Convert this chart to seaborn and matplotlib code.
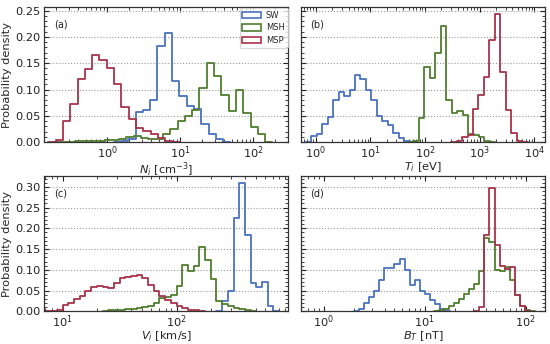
import numpy as np
import pandas as pd
import matplotlib
matplotlib.use("Agg")
import matplotlib.pyplot as plt
import seaborn as sns
from matplotlib.patches import Patch
from matplotlib.ticker import MultipleLocator, FormatStrFormatter

series_names = ["SW", "MSH", "MSP"]
colors = {"SW": "#4a72c0", "MSH": "#4f7d2e", "MSP": "#a8334a"}

# ---- data: each histogram = (log10 of first bin edge, log10 bin width, densities)
# (a) N_i [cm^-3]
a_sw_start, a_msh_start, a_msp_start, a_width = 0.184, -0.64, -0.71, 0.1
a_sw = [0.002, 0.006, 0.058, 0.062, 0.08, 0.183, 0.207, 0.116, 0.088, 0.068,
        0.063, 0.034, 0.016, 0.006]
a_msh = [0.001, 0.001, 0.002, 0.002, 0.003, 0.003, 0.004, 0.005, 0.007, 0.009,
         0.011, 0.008, 0.006, 0.006, 0.016, 0.025, 0.04, 0.05, 0.062, 0.103,
         0.15, 0.125, 0.09, 0.06, 0.1, 0.056, 0.028, 0.016]
a_msp = [0.004, 0.04, 0.073, 0.12, 0.139, 0.165, 0.157, 0.14, 0.11, 0.066,
         0.044, 0.027, 0.022, 0.016, 0.008, 0.003]

# (b) T_i [eV]
b_sw_start, b_msh_start, b_msp_start, b_width = -0.08, 1.79, 2.58, 0.1
b_sw = [0.012, 0.016, 0.035, 0.048, 0.08, 0.096, 0.088, 0.1, 0.127, 0.12,
        0.1, 0.08, 0.05, 0.041, 0.032, 0.017, 0.008, 0.002]
b_msh = [0.002, 0.045, 0.143, 0.121, 0.17, 0.22, 0.08, 0.055, 0.059, 0.052,
         0.016, 0.014, 0.009, 0.003]
b_msp = [0.003, 0.01, 0.013, 0.063, 0.089, 0.124, 0.195, 0.243, 0.134, 0.062,
         0.017, 0.002]

# (c) V_i [km/s]
c_sw_start, c_msh_start, c_msp_start, c_width = 2.40, 1.40, 0.90, 0.05
c_sw = [0.026, 0.05, 0.226, 0.31, 0.184, 0.068, 0.058, 0.07, 0.012]
c_msh = [0.002, 0.003, 0.004, 0.005, 0.006, 0.008, 0.01, 0.013, 0.019, 0.031,
         0.035, 0.04, 0.06, 0.111, 0.097, 0.108, 0.155, 0.124, 0.077, 0.025,
         0.018, 0.013, 0.009, 0.005, 0.002]
c_msp = [0.001, 0.003, 0.016, 0.02, 0.03, 0.038, 0.048, 0.058, 0.062, 0.058,
         0.055, 0.068, 0.08, 0.083, 0.085, 0.088, 0.08, 0.063, 0.05, 0.038,
         0.028, 0.02, 0.013, 0.008, 0.004, 0.002]

# (d) B_T [nT]
d_sw_start, d_msh_start, d_msp_start, d_width = 0.35, 1.14, 1.54, 0.05
d_sw = [0.005, 0.02, 0.034, 0.05, 0.076, 0.104, 0.105, 0.115, 0.125, 0.1,
        0.063, 0.075, 0.048, 0.042, 0.028, 0.018, 0.005]
d_msh = [0.002, 0.005, 0.012, 0.02, 0.03, 0.042, 0.053, 0.066, 0.097, 0.176,
         0.168, 0.1, 0.097, 0.106, 0.075, 0.04, 0.013, 0.004]
d_msp = [0.01, 0.184, 0.297, 0.16, 0.11, 0.102, 0.106, 0.04, 0.012]

x_labels = [r"$N_i$ [cm$^{-3}$]", r"$T_i$ [eV]", r"$V_i$ [km/s]", r"$B_T$ [nT]"]
panel_tags = ["(a)", "(b)", "(c)", "(d)"]
x_limits = [(0.135, 301), (0.53, 15800), (6.85, 960), (0.59, 155)]
y_limits = [(0, 0.257), (0, 0.257), (0, 0.326), (0, 0.326)]

panels = [
    ((a_sw_start, a_sw), (a_msh_start, a_msh), (a_msp_start, a_msp), a_width),
    ((b_sw_start, b_sw), (b_msh_start, b_msh), (b_msp_start, b_msp), b_width),
    ((c_sw_start, c_sw), (c_msh_start, c_msh), (c_msp_start, c_msp), c_width),
    ((d_sw_start, d_sw), (d_msh_start, d_msh), (d_msp_start, d_msp), d_width),
]

sns.set_theme(style="ticks")
plt.rcParams["font.family"] = ["DejaVu Sans"]

fig, axes = plt.subplots(2, 2, figsize=(5.5, 3.44), dpi=100, sharey="row")
fig.subplots_adjust(left=0.08, right=0.991, top=0.98, bottom=0.095,
                    wspace=0.05, hspace=0.25)

for k, ax in enumerate(axes.flat):
    *hists, width = panels[k]
    for name, (start, vals) in zip(series_names, hists):
        n = len(vals)
        # pad one empty bin on each side so the outline returns to zero
        edges = [float(v) for v in 10 ** (start + width * np.arange(-1, n + 2))]
        centers = 10 ** (start + width * (np.arange(n) + 0.5))
        df = pd.DataFrame({"x": centers, "w": np.asarray(vals, dtype=float)})
        sns.histplot(data=df, x="x", weights="w", bins=edges, element="step",
                     fill=False, stat="count", color=colors[name],
                     linewidth=1.3, ax=ax)
    ax.set_xscale("log")
    ax.set_xlim(*x_limits[k])
    ax.set_ylim(*y_limits[k])
    ax.yaxis.set_major_locator(MultipleLocator(0.05))
    ax.yaxis.set_minor_locator(MultipleLocator(0.01))
    ax.yaxis.set_major_formatter(FormatStrFormatter("%.2f"))
    ax.tick_params(which="both", direction="in", top=True, right=True,
                   labelsize=8.2, colors="#222222", pad=2.5)
    ax.tick_params(axis="x", which="both", pad=1.5)
    ax.tick_params(which="major", length=3.5, width=0.8)
    ax.tick_params(which="minor", length=2, width=0.6)
    ax.yaxis.grid(True, which="major", linestyle=":", color="#999999", lw=0.8)
    ax.set_axisbelow(True)
    for sp in ax.spines.values():
        sp.set_color("#333333")
        sp.set_linewidth(0.9)
    ax.set_xlabel(x_labels[k], fontsize=8.2, labelpad=-0.5)
    if k % 2 == 0:
        ax.set_ylabel("Probability density", fontsize=8.2, labelpad=2)
    else:
        ax.set_ylabel("")
        ax.tick_params(labelleft=False)
    ax.text(0.04, 0.87, panel_tags[k], transform=ax.transAxes, fontsize=7,
            va="center", ha="left", color="#222222")

handles = [Patch(facecolor="white", edgecolor=colors[n], lw=1.2, label=n)
           for n in series_names]
leg = axes[0, 0].legend(handles=handles, loc="upper right", fontsize=6,
                        frameon=True, borderaxespad=0.1, handlelength=2.2,
                        handleheight=0.8, labelspacing=0.45, borderpad=0.35,
                        handletextpad=0.6)
leg.get_frame().set_edgecolor("#cccccc")
leg.get_frame().set_linewidth(0.8)

fig.savefig("out.png", dpi=100)
